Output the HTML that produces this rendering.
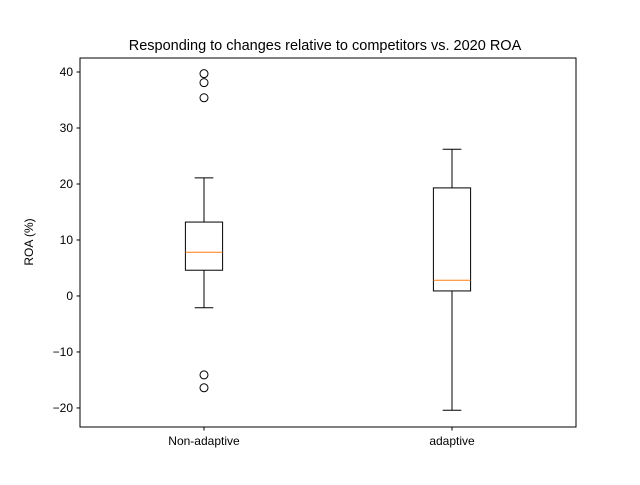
<!DOCTYPE html>
<html><head><meta charset="utf-8"><style>
body{margin:0;background:#fff;}
svg text{font-family:"Liberation Sans","DejaVu Sans",sans-serif;}
</style></head><body>
<svg id="chart" width="640" height="480" xmlns="http://www.w3.org/2000/svg">
<rect width="640" height="480" fill="#fff"/>
<text x="325" y="50" font-size="14.5" text-anchor="middle">Responding to changes relative to competitors vs. 2020 ROA</text>
<text transform="translate(33,242) rotate(-90)" font-size="12" text-anchor="middle">ROA (%)</text>
<g id="yticks"></g>
<g id="xticks"></g>
<g id="boxes"></g>
<rect x="80" y="58" width="496" height="369" fill="none" stroke="#000" stroke-width="1"/>
</svg>
<script>
const categories=["Non-adaptive","adaptive"];
const q1=[4.6,0.9];
const q3=[13.2,19.3];
const medians=[7.8,2.8];
const whiskerLow=[-2.1,-20.4];
const whiskerHigh=[21.1,26.2];
const outliers=[[39.7,38.1,35.4,-14.1,-16.4],[]];
const yTicks=[-20,-10,0,10,20,30,40];
const NS="http://www.w3.org/2000/svg";
const yMin=-23.4,yMax=42.5,yTop=58,yBot=427,xLeft=80,xRight=576;
function y(v){return yBot-(v-yMin)/(yMax-yMin)*(yBot-yTop);}
// matplotlib positions 1..n with xlim 0.5..n+0.5
function x(i){return xLeft+(i+1-0.5)/(categories.length)*(xRight-xLeft);}
function el(t,a,p){const e=document.createElementNS(NS,t);for(const k in a)e.setAttribute(k,a[k]);p.appendChild(e);return e;}
const yt=document.getElementById('yticks'),xt=document.getElementById('xticks'),bx=document.getElementById('boxes');
yTicks.forEach(v=>{
 const l=el('line',{x1:xLeft-3.5,x2:xLeft,y1:y(v),y2:y(v),stroke:'#000'},yt);
 
 
 const t=el('text',{x:xLeft-7,y:y(v)+4,'font-size':'12','text-anchor':'end'},yt);
 t.textContent=(v<0?'\u2212'+(-v):String(v));
 
 
});
categories.forEach((c,i)=>{
 const cx=x(i);
 const l=el('line',{x1:cx,x2:cx,y1:yBot,y2:yBot+3.5,stroke:'#000'},xt);
 
 
 const t=el('text',{x:cx,y:yBot+18,'font-size':'12','text-anchor':'middle'},xt);
 t.textContent=c;
 
 
 const g=el('g',{},bx);
 
 
 const hw=18.6,cw=9.3;
 el('line',{x1:cx,x2:cx,y1:y(q1[i]),y2:y(whiskerLow[i]),stroke:'#000'},g);
 el('line',{x1:cx,x2:cx,y1:y(q3[i]),y2:y(whiskerHigh[i]),stroke:'#000'},g);
 el('line',{x1:cx-cw,x2:cx+cw,y1:y(whiskerLow[i]),y2:y(whiskerLow[i]),stroke:'#000'},g);
 el('line',{x1:cx-cw,x2:cx+cw,y1:y(whiskerHigh[i]),y2:y(whiskerHigh[i]),stroke:'#000'},g);
 el('rect',{x:cx-hw,y:y(q3[i]),width:2*hw,height:y(q1[i])-y(q3[i]),fill:'none',stroke:'#000'},g);
 el('line',{x1:cx-hw,x2:cx+hw,y1:y(medians[i]),y2:y(medians[i]),stroke:'#ff7f0e'},g);
 outliers[i].forEach(o=>{
  const p=el('circle',{cx:cx,cy:y(o),r:4,fill:'none',stroke:'#000'},g);
  
  
 });
});
</script>
</body></html>
